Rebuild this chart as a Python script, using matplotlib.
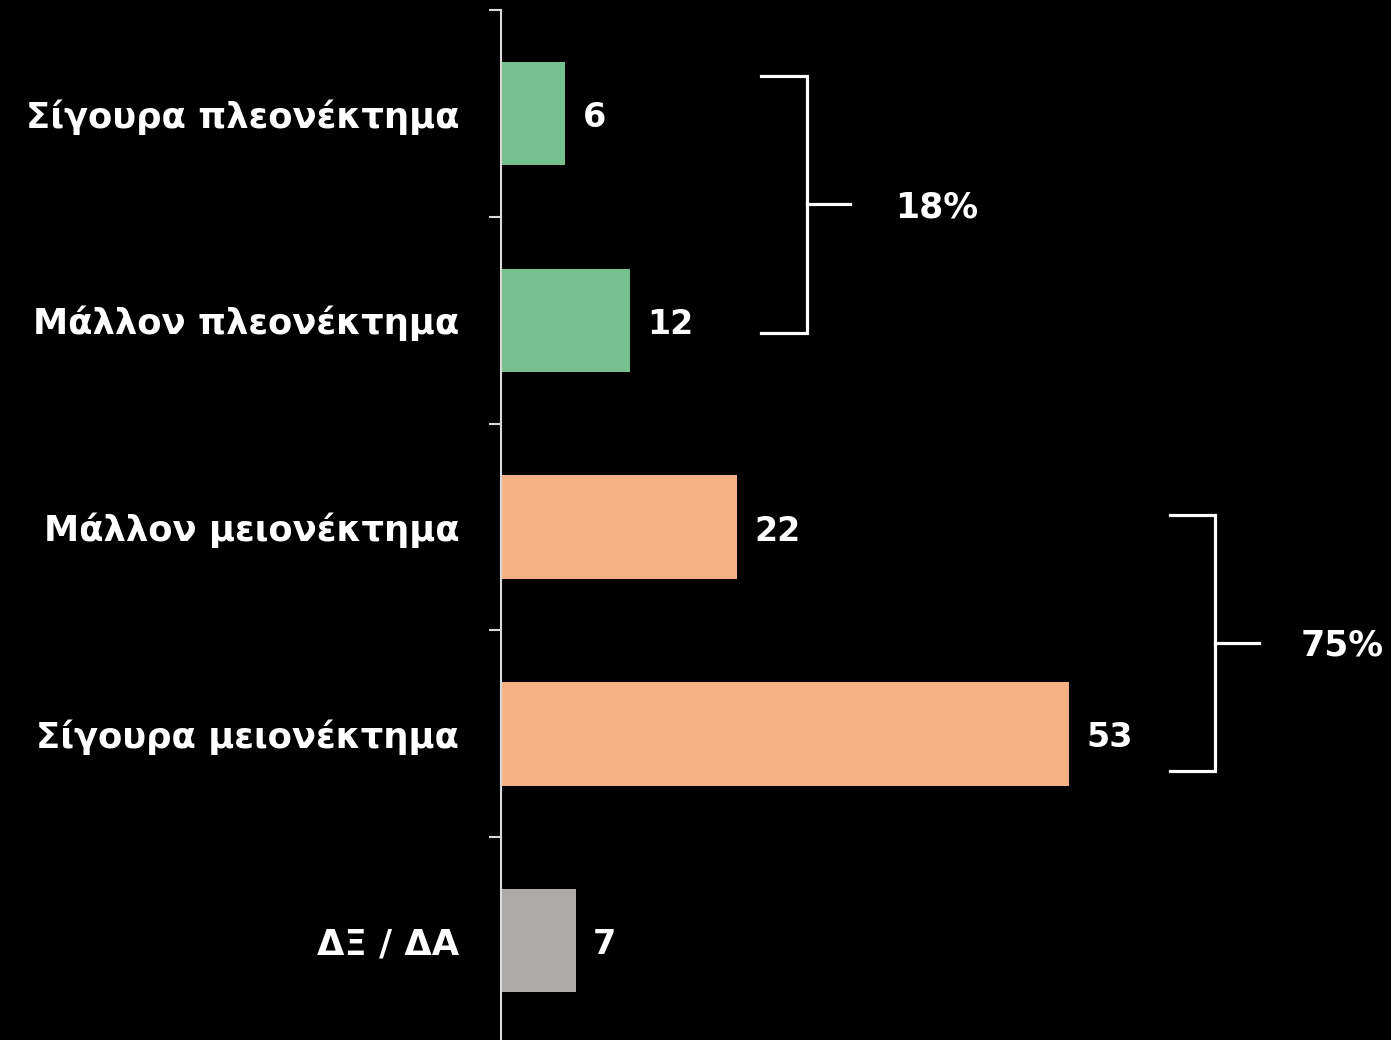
import matplotlib
matplotlib.use("Agg")
import matplotlib.pyplot as plt

categories = ["Σίγουρα πλεονέκτημα", "Μάλλον πλεονέκτημα", "Μάλλον μειονέκτημα",
              "Σίγουρα μειονέκτημα", "ΔΞ / ΔΑ"]
values = [6, 12, 22, 53, 7]
colors = ["#76C08F", "#76C08F", "#F4B183", "#F4B183", "#AEAAAA"]
group_labels = ["18%", "75%"]
group_members = [(0, 1), (2, 3)]

plt.rcParams['font.family'] = ['DejaVu Sans']

fig = plt.figure(figsize=(13.91, 10.40), dpi=100, facecolor="black")
ax = fig.add_axes([501/1391, 1 - 1044/1040, 890/1391, 1034/1040])
ax.set_facecolor("black")

y = list(range(len(categories)))
ax.barh(y, values, height=0.5, color=colors)
ax.set_xlim(0, 890/10.72)
ax.set_ylim(len(categories) - 0.5, -0.5)

for s in ["top", "right", "bottom"]:
    ax.spines[s].set_visible(False)
ax.spines["left"].set_color("#d9d9d9")
ax.spines["left"].set_linewidth(1.5)
ax.set_xticks([])
ax.set_yticks([i - 0.5 for i in range(len(categories) + 1)], minor=False)
ax.set_yticklabels([])
ax.tick_params(axis="y", which="major", length=9, width=1.5, color="#d9d9d9")
ax.set_yticks(y, minor=True)
ax.set_yticklabels(categories, minor=True)
ax.tick_params(axis="y", which="minor", length=0, pad=30, labelsize=25.5,
               labelcolor="white")
for t in ax.get_yticklabels(minor=True):
    t.set_fontweight("bold")

for i, v in enumerate(values):
    ax.text(v + 1.6, i + 0.02, str(v), color="white", fontsize=24, fontweight="bold",
            va="center", ha="left")

# brackets: (x_end, x_vertical, x_stub, x_text, top_offset, bottom_offset)
br = [(24.3, 28.5, 32.6, 40.6, -0.18, 0.06), (62.4, 66.6, 70.7, 78.5, -0.06, 0.18)]
for (a, b), lab, (x0, x1, x2, xt, to, bo) in zip(group_members, group_labels, br):
    top = a + to
    bot = b + bo
    mid = (top + bot) / 2
    ax.plot([x0, x1, x1, x0], [top, top, bot, bot], color="white", lw=2.3,
            solid_joinstyle="miter", clip_on=False)
    ax.plot([x1, x2], [mid, mid], color="white", lw=2.3, clip_on=False)
    ax.text(xt, mid + 0.015, lab, color="white", fontsize=25, fontweight="bold",
            ha="center", va="center", clip_on=False)

fig.savefig("out.png", dpi=100, facecolor="black")
